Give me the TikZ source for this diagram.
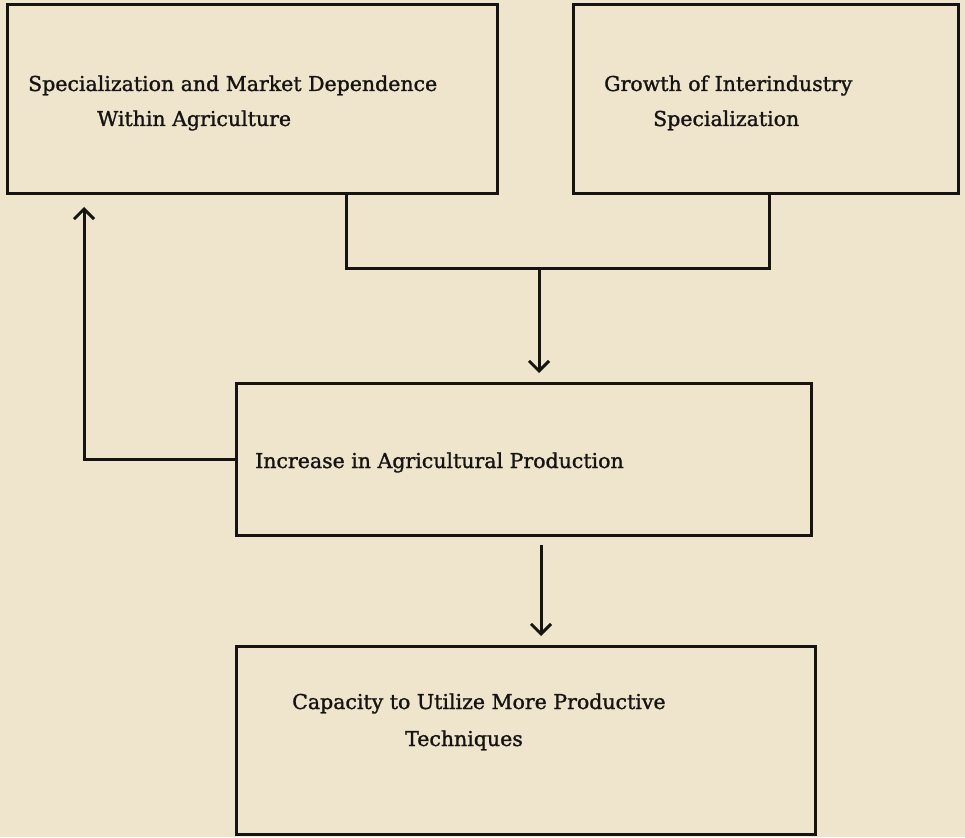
\documentclass[tikz,border=0pt]{standalone}
\usepackage{fontspec}
\setmainfont{DejaVu Serif}
\newfontfamily\diagfont{DejaVu Serif}[FakeBold=1.3]
\usetikzlibrary{arrows.meta}
\definecolor{paper}{RGB}{239,229,205}
\definecolor{ink}{RGB}{22,20,18}
\tikzset{
  box/.style={draw=ink, line width=3pt, rectangle, inner sep=0pt, outer sep=0pt},
  lbl/.style={anchor=base west, inner sep=0pt, text=ink, font=\diagfont\fontsize{20.5}{24}\selectfont},
  wire/.style={draw=ink, line width=3pt},
  arr/.style={wire, -{Straight Barb[length=10pt,width=20pt,line width=3pt]}}
}
\begin{document}
\begin{tikzpicture}[x=1pt,y=-1pt]
\fill[paper] (0,0) rectangle (965,837);
\useasboundingbox (0,0) rectangle (965,837);
% boxes
\node[box, minimum width=490pt, minimum height=188pt] (b1) at (252,99) {};
\node[box, minimum width=385pt, minimum height=188pt] (b2) at (765.5,99) {};
\node[box, minimum width=575pt, minimum height=152pt] (b3) at (523.5,459) {};
\node[box, minimum width=579pt, minimum height=188pt] (b4) at (525.5,740) {};
% texts
\node[lbl] (t1a) at (28,91) {Specialization and Market Dependence};
\node[lbl] (t1b) at (97,126) {Within Agriculture};
\node[lbl] (t2a) at (604,91) {Growth of Interindustry};
\node[lbl] (t2b) at (653,126) {Specialization};
\node[lbl] (t3) at (255,468) {Increase in Agricultural Production};
\node[lbl] (t4a) at (292,709) {Capacity to Utilize More Productive};
\node[lbl] (t4b) at (405,746) {Techniques};
% helper coordinates
\coordinate (x1) at (346,0);
\coordinate (x2) at (769,0);
\coordinate (j) at (539,268);
\coordinate (fb) at (84,459);
\coordinate (x3) at (541,0);
% connectors
\draw[wire] (b1.south -| x1) |- (j) -| (b2.south -| x2);
\draw[arr, shorten >=10pt] (j) -- (j |- b3.north);
\draw[arr, shorten >=14pt] (b3.west) -- (fb) -- (fb |- b1.south);
\draw[arr, shorten <=10pt, shorten >=10pt] (b3.south -| x3) -- (b4.north -| x3);
\end{tikzpicture}
\end{document}
